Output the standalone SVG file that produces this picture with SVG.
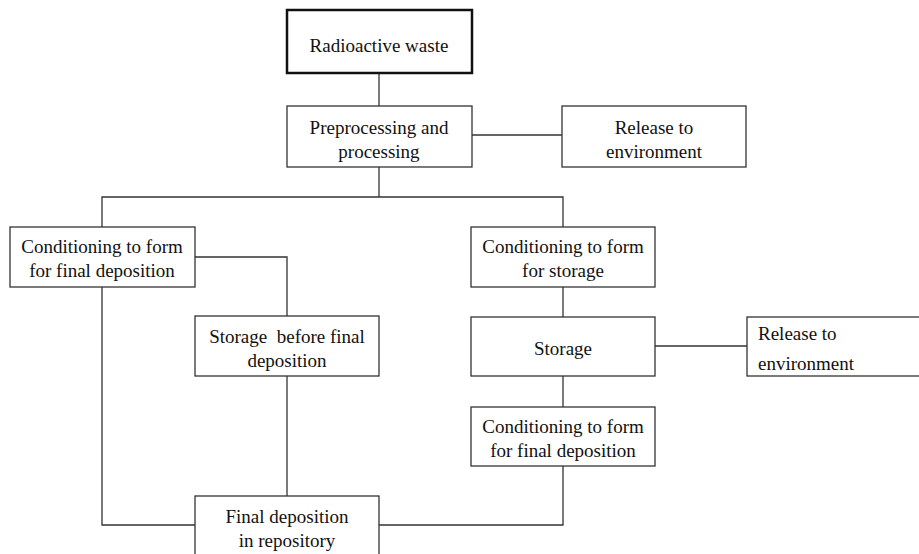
<svg xmlns="http://www.w3.org/2000/svg" width="919" height="554" viewBox="0 0 919 554">
<style>
.box{fill:#fff;stroke:#333;stroke-width:1.3}
.thick{fill:#fff;stroke:#111;stroke-width:2.5}
.ln{fill:none;stroke:#333;stroke-width:1.3}
text{font-size:19px;fill:#111;text-anchor:middle}
.l{text-anchor:start}
</style>
<rect width="919" height="554" fill="#fff"/>
<g id="connectors">
<line class="ln" x1="379" y1="73" x2="379" y2="106"/>
<line class="ln" x1="472" y1="135" x2="562" y2="135"/>
<polyline class="ln" points="379,167 379,197"/>
<polyline class="ln" points="102,227 102,197 563,197 563,227"/>
<polyline class="ln" points="195,257 287,257 287,316"/>
<line class="ln" x1="287" y1="376" x2="287" y2="496"/>
<polyline class="ln" points="102,287 102,525 195,525"/>
<line class="ln" x1="563" y1="287" x2="563" y2="317"/>
<line class="ln" x1="655" y1="346" x2="747" y2="346"/>
<line class="ln" x1="563" y1="376" x2="563" y2="407"/>
<polyline class="ln" points="563,466 563,525 379,525"/>
</g>
<g font-family="Liberation Serif, DejaVu Serif, serif">
<g id="radioactive-waste">
<rect class="thick" x="287" y="10" width="185" height="63"/>
<text x="379" y="52">Radioactive waste</text>
</g>
<g id="preprocessing">
<rect class="box" x="287" y="106" width="185" height="61"/>
<text x="379" y="134">Preprocessing  and</text>
<text x="379" y="158">processing</text>
</g>
<g id="release-1">
<rect class="box" x="562" y="106" width="184" height="61"/>
<text x="654" y="134">Release to</text>
<text x="654" y="158">environment</text>
</g>
<g id="cond-final-left">
<rect class="box" x="10" y="227" width="185" height="60"/>
<text x="102" y="253">Conditioning to form</text>
<text x="102" y="277">for final deposition</text>
</g>
<g id="storage-before">
<rect class="box" x="195" y="316" width="184" height="60"/>
<text x="287" y="343" xml:space="preserve">Storage  before final</text>
<text x="287" y="367">deposition</text>
</g>
<g id="cond-storage">
<rect class="box" x="471" y="227" width="184" height="60"/>
<text x="563" y="253">Conditioning to form</text>
<text x="563" y="277">for storage</text>
</g>
<g id="storage">
<rect class="box" x="471" y="317" width="184" height="59"/>
<text x="563" y="355">Storage</text>
</g>
<g id="release-2">
<rect class="box" x="747" y="317" width="180" height="59"/>
<text class="l" x="758" y="340">Release to</text>
<text class="l" x="758" y="370">environment</text>
</g>
<g id="cond-final-right">
<rect class="box" x="471" y="407" width="184" height="59"/>
<text x="563" y="433">Conditioning to form</text>
<text x="563" y="457">for final deposition</text>
</g>
<g id="final-deposition">
<rect class="box" x="195" y="496" width="184" height="65"/>
<text x="287" y="523">Final deposition</text>
<text x="287" y="547">in repository</text>
</g>
</g>
</svg>
